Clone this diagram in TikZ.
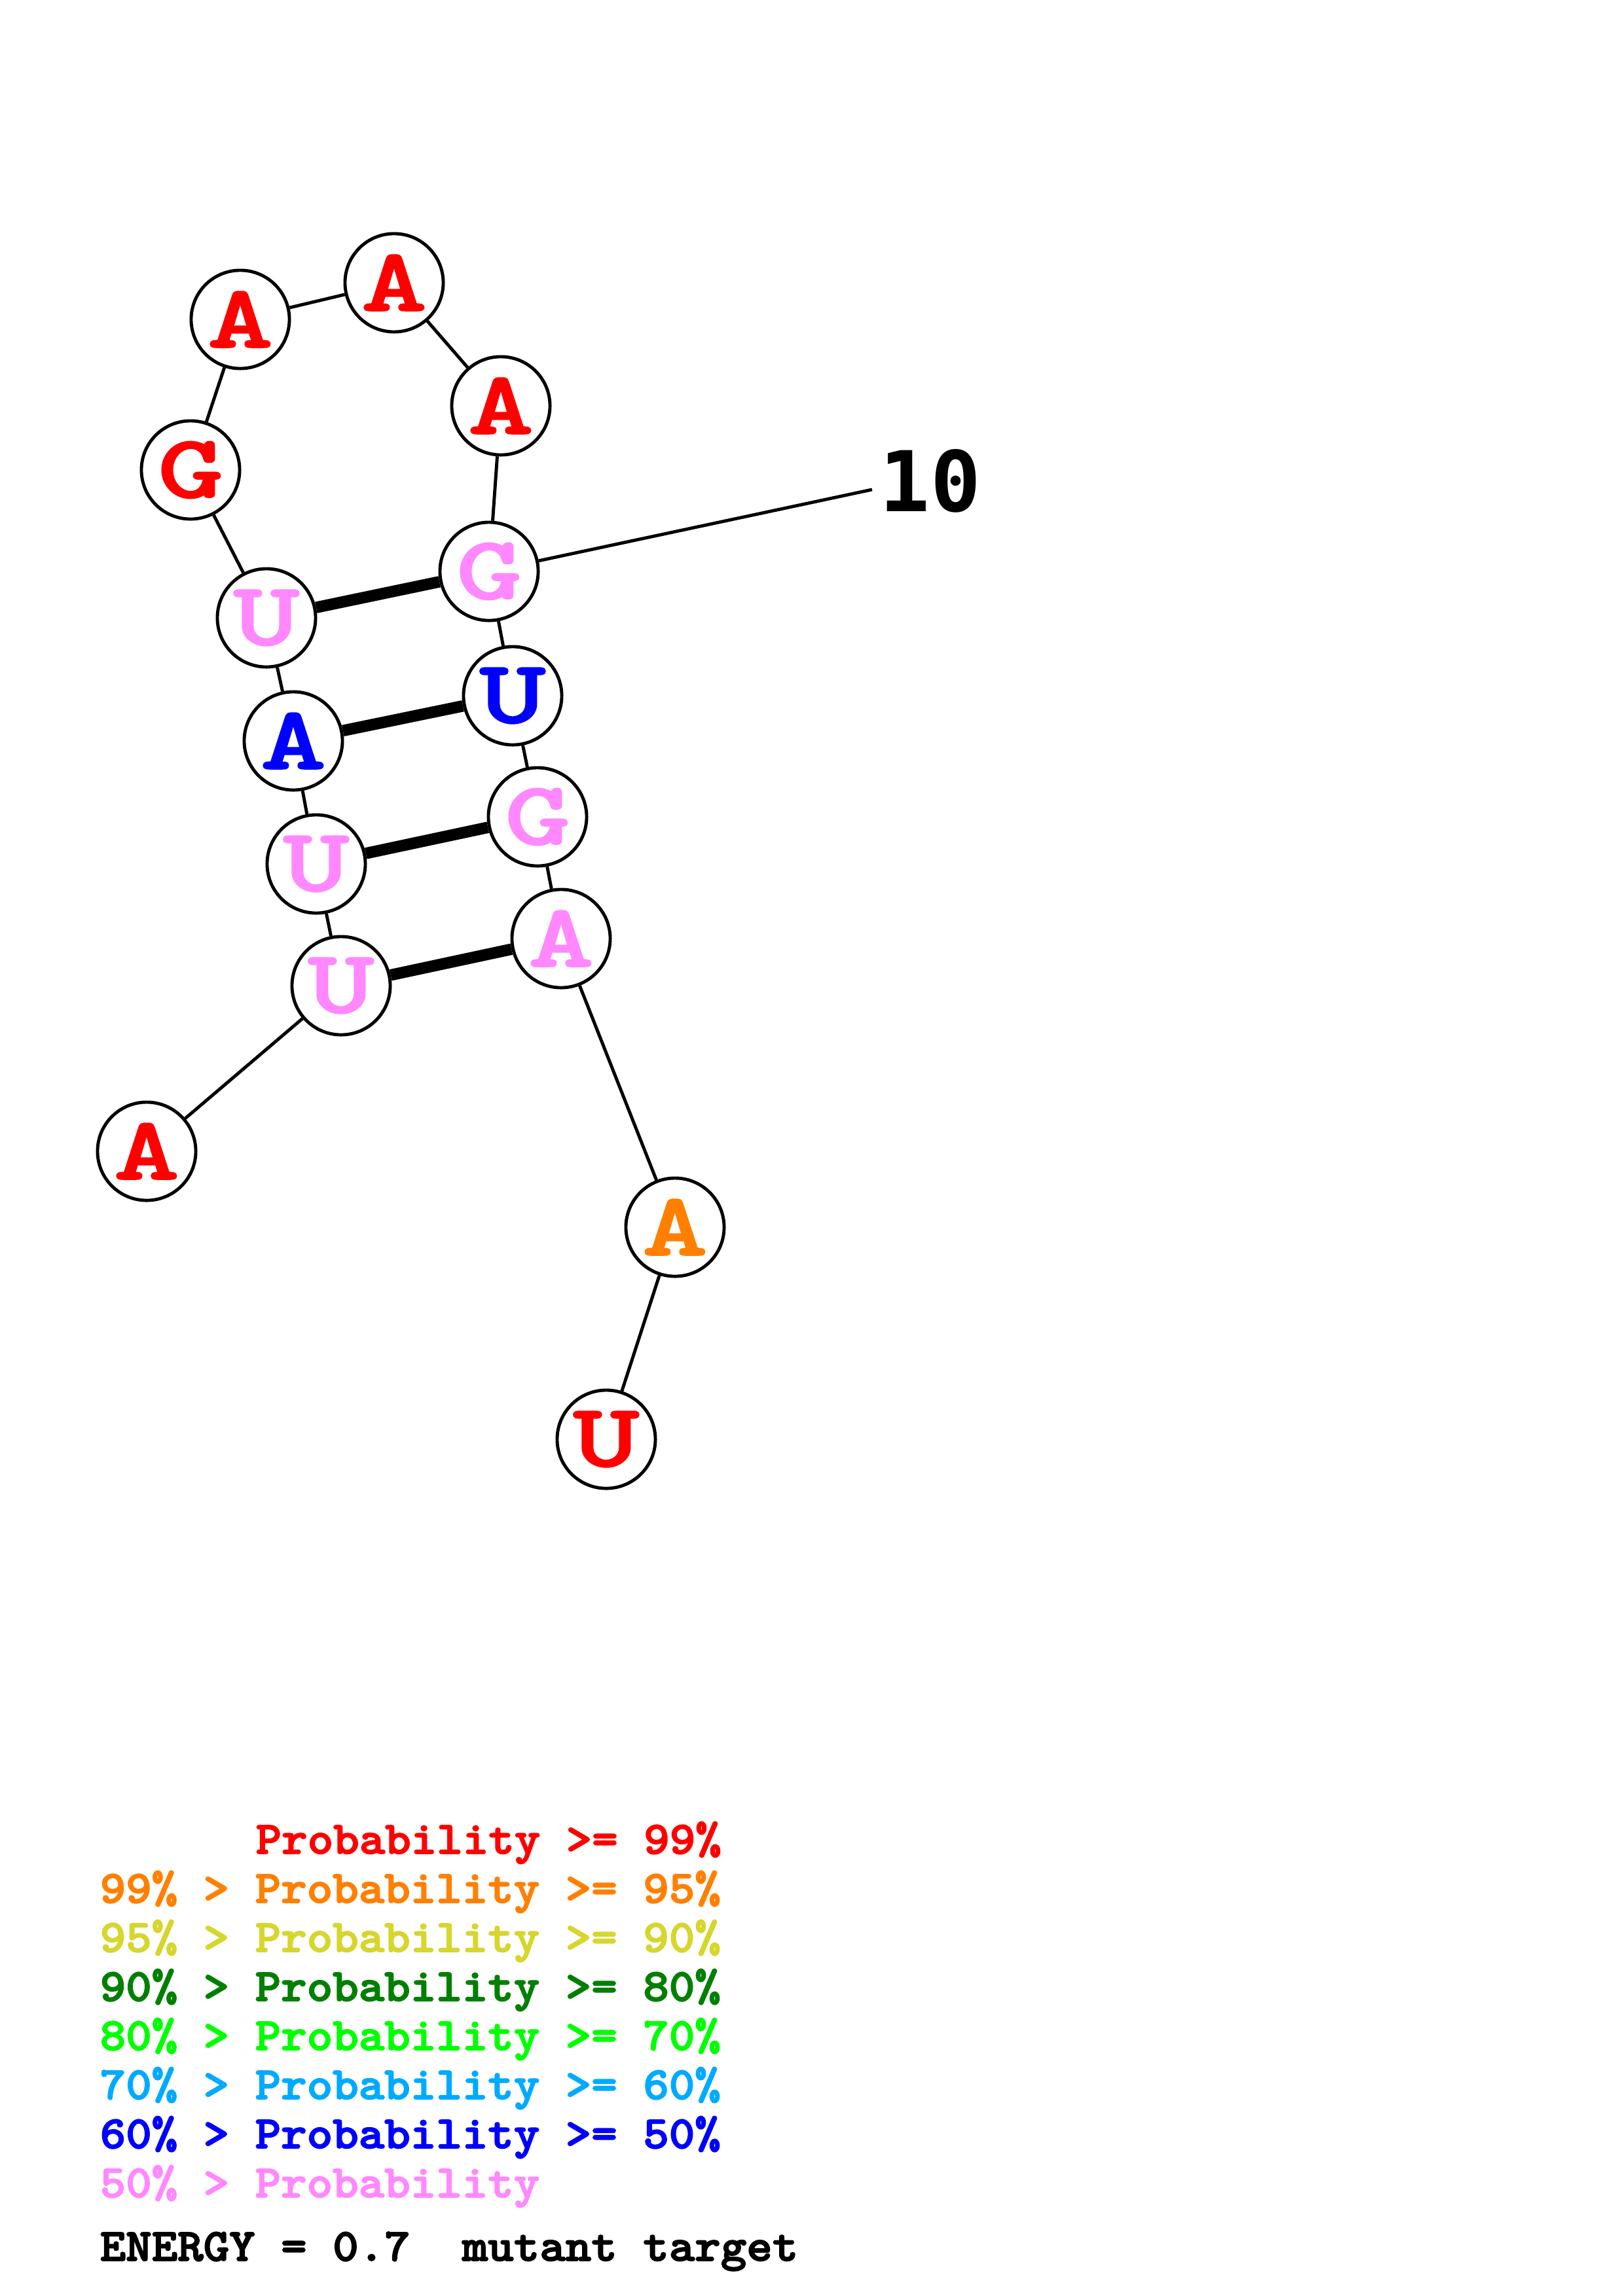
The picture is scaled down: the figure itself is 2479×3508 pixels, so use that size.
\documentclass[tikz,border=0pt]{standalone}
\usepackage{fontspec}
\usetikzlibrary{backgrounds}
\newfontfamily\courb[FakeStretch=1.4,FakeBold=1.5]{lmmonolt10-bold.otf}
\newfontfamily\legfont[FakeStretch=1.07,FakeBold=2.5,WordSpace={1,0,0}]{lmmonolt10-bold.otf}
\newfontfamily\dejamono{DejaVu Sans Mono}
\definecolor{cred}{RGB}{255,0,0}
\definecolor{corange}{RGB}{255,128,0}
\definecolor{cyellow}{RGB}{214,214,44}
\definecolor{cdkgreen}{RGB}{0,128,0}
\definecolor{cgreen}{RGB}{0,255,0}
\definecolor{csky}{RGB}{0,170,255}
\definecolor{cblue}{RGB}{0,0,255}
\definecolor{cpink}{RGB}{255,136,255}
\tikzset{
  nt/.style={circle, draw=black, line width=1.4pt, fill=white, minimum size=1.5cm, inner sep=0pt,
    font=\courb\fontsize{39}{39}\selectfont},
  backbone/.style={line width=1.4pt},
  pairline/.style={line width=5pt},
  legend/.style={anchor=base west, inner sep=0pt, font=\legfont\fontsize{20}{20}\selectfont},
  numlabel/.style={inner sep=0pt, font=\dejamono\bfseries\fontsize{36.4}{36.4}\selectfont}
}
\begin{document}
\begin{tikzpicture}[x=0.01cm,y=-0.01cm]
\useasboundingbox (0,0) rectangle (2479,3508);
% nucleotides
\node[nt, text=cred]  (n1)  at (224,1759) {A};
\node[nt, text=cpink] (n2)  at (521,1506) {U};
\node[nt, text=cpink] (n3)  at (483,1320) {U};
\node[nt, text=cblue] (n4)  at (448,1132) {A};
\node[nt, text=cpink] (n5)  at (407,944) {U};
\node[nt, text=cred]  (n6)  at (291,718) {G};
\node[nt, text=cred]  (n7)  at (367,488) {A};
\node[nt, text=cred]  (n8)  at (602,432) {A};
\node[nt, text=cred]  (n9)  at (765,620) {A};
\node[nt, text=cpink] (n10) at (747,873) {G};
\node[nt, text=cblue] (n11) at (783,1063) {U};
\node[nt, text=cpink] (n12) at (821,1248) {G};
\node[nt, text=cpink] (n13) at (857,1434) {A};
\node[nt, text=corange] (n14) at (1031,1875) {A};
\node[nt, text=cred]  (n15) at (926,2199) {U};
% position label
\coordinate (tick10) at (1332,748);
\node[numlabel] (lab10) at (1421,735) {10};
\begin{scope}[on background layer]
\draw[backbone] (n1)--(n2)--(n3)--(n4)--(n5)--(n6)--(n7)--(n8)--(n9)--(n10)--(n11)--(n12)--(n13)--(n14)--(n15);
\draw[backbone] (n10)--(tick10);
\draw[pairline] (n5)--(n10);
\draw[pairline] (n4)--(n11);
\draw[pairline] (n3)--(n12);
\draw[pairline] (n2)--(n13);
\end{scope}
% legend
\node[legend, text=cred]     (l1) at (390,2832) {Probability >= 99\%};
\node[legend, text=corange]  (l2) at (152,2907) {99\% > Probability >= 95\%};
\node[legend, text=cyellow]  (l3) at (152,2982) {95\% > Probability >= 90\%};
\node[legend, text=cdkgreen] (l4) at (152,3057) {90\% > Probability >= 80\%};
\node[legend, text=cgreen]   (l5) at (152,3132) {80\% > Probability >= 70\%};
\node[legend, text=csky]     (l6) at (152,3207) {70\% > Probability >= 60\%};
\node[legend, text=cblue]    (l7) at (152,3282) {60\% > Probability >= 50\%};
\node[legend, text=cpink]    (l8) at (152,3357) {50\% > Probability};
\node[legend, text=black]    (en) at (152,3454) {ENERGY = 0.7\ \ mutant target};
\end{tikzpicture}
\end{document}
